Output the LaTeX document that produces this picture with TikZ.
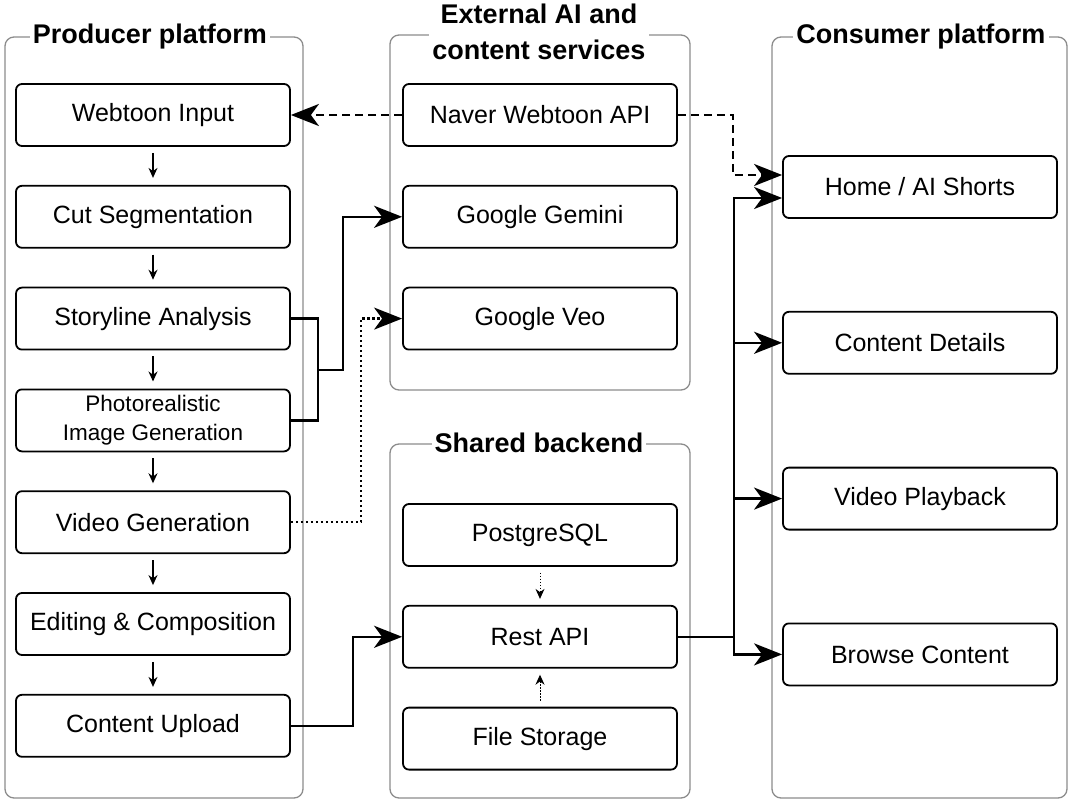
\documentclass[tikz,border=0pt]{standalone}
\usepackage{fontspec}
\setmainfont{Liberation Sans}
\usetikzlibrary{positioning,arrows.meta}

\begin{document}
\begin{tikzpicture}[x=1pt, y=1pt,
  every node/.style={font=\fontsize{25}{30}\selectfont},
  blk/.style={draw, rounded corners=6pt, line width=1.8pt, minimum width=274pt, minimum height=62pt, inner sep=2pt, align=center},
  grp/.style={draw=black!45, rounded corners=9pt, line width=1.3pt},
  ttl/.style={fill=white, inner sep=3pt, align=center, font=\fontsize{27}{36}\selectfont\bfseries},
  flow/.style={-{Stealth[length=28pt, width=22pt, inset=8pt]}, line width=2.5pt},
  link/.style={line width=2.5pt},
  dep/.style={-{Stealth[length=28pt, width=22pt, inset=8pt]}, line width=2.5pt, dash pattern=on 8pt off 5pt},
  dot/.style={-{Stealth[length=28pt, width=22pt, inset=8pt]}, line width=2.2pt, dash pattern=on 2.2pt off 2.8pt},
  nxt/.style={-{Stealth[length=10pt, width=9pt]}, line width=1.4pt},
  aux/.style={-{Stealth[length=10pt, width=9pt]}, line width=1pt, dash pattern=on 1.5pt off 1.5pt}]

\useasboundingbox (0,0) rectangle (1072,-805);

% group frames
\draw[grp] (5,-37) rectangle (303,-798);
\draw[grp] (390,-35) rectangle (690,-390);
\draw[grp] (390,-444) rectangle (690,-798);
\draw[grp] (772,-37) rectangle (1067,-798);
\node[ttl] (prodttl) at (150,-37) {Producer platform};
\node[ttl] (extttl) at (539,-32) {External AI and\\content services};
\node[ttl] (backttl) at (539,-443) {Shared backend};
\node[ttl] (consttl) at (921,-37) {Consumer platform};

% producer pipeline
\node[blk] (input) at (153,-115) {Webtoon Input};
\node[blk, below=38pt of input] (cut) {Cut Segmentation};
\node[blk, below=38pt of cut] (story) {Storyline Analysis};
\node[blk, below=38pt of story, font=\fontsize{22.5}{29}\selectfont] (photo) {Photorealistic\\Image Generation};
\node[blk, below=38pt of photo] (video) {Video Generation};
\node[blk, below=38pt of video] (edit) {Editing \& Composition};
\node[blk, below=38pt of edit] (upload) {Content Upload};

% external services
\node[blk] (naver) at (540,-115) {Naver Webtoon API};
\node[blk, below=38pt of naver] (gemini) {Google Gemini};
\node[blk, below=38pt of gemini] (veo) {Google Veo};

% backend
\node[blk] (pg) at (540,-535) {PostgreSQL};
\node[blk, below=38pt of pg] (rest) {Rest API};
\node[blk, below=38pt of rest] (files) {File Storage};

% consumer
\node[blk] (home) at (920,-187) {Home / AI Shorts};
\node[blk, below=92pt of home] (details) {Content Details};
\node[blk, below=92pt of details] (playback) {Video Playback};
\node[blk, below=92pt of playback] (browse) {Browse Content};

\foreach \a/\b in {input/cut, cut/story, story/photo, photo/video, video/edit, edit/upload}
  \draw[nxt] ([yshift=-6pt]\a.south) -- ([yshift=7pt]\b.north);

\draw[aux] ([yshift=-6pt]pg.south) -- ([yshift=6pt]rest.north);
\draw[aux] ([yshift=6pt]files.north) -- ([yshift=-6pt]rest.south);

\draw[dep] (naver.west) -- (input.east);
\draw[dep] (naver.east) -- ++(55,0) |- ([yshift=12pt]home.west);

\coordinate (join) at (318,-370);
\draw[link] (story.east) -| (join);
\draw[link] (photo.east) -| (join);
\draw[flow] (join) -- ++(25,0) |- (gemini.west);
\draw[dot] (video.east) -- ++(70,0) |- (veo.west);
\draw[flow] (upload.east) -- ++(62,0) |- (rest.west);

\draw[link] (rest.east) -- ++(56,0) coordinate (split);
\draw[flow] (split) |- ([yshift=-11pt]home.west);
\foreach \t in {details, playback, browse}
  \draw[flow] (split) |- (\t.west);
\end{tikzpicture}
\end{document}
